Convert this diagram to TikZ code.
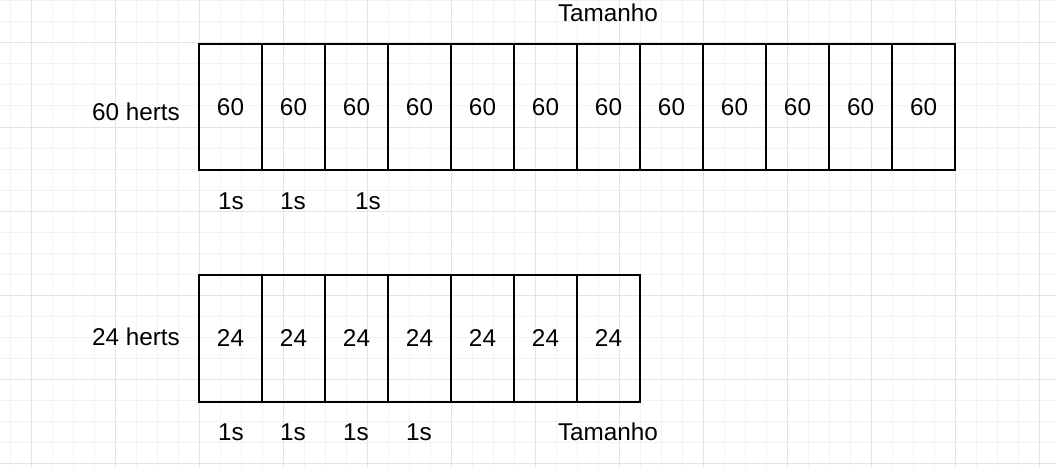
\documentclass[tikz,border=0pt]{standalone}
\usepackage{fontspec}
\setmainfont{Liberation Sans}
\usepackage{xcolor}
\definecolor{gridminor}{HTML}{F3F3F3}
\definecolor{gridmajor}{HTML}{E4E4E4}

\begin{document}
\begin{tikzpicture}[x=1pt, y=-1pt,
    frame/.style={draw, line width=2pt, minimum width=63pt, minimum height=126pt,
      inner sep=0pt, anchor=north west, font=\fontsize{24.3}{27}\selectfont},
    lbl/.style={font=\fontsize{24.3}{27}\selectfont, inner sep=0pt}]
    \useasboundingbox (0,0) rectangle (1056,468);
    \fill[white] (0,0) rectangle (1056,468);

    % Background grid
    \foreach \gx in {10,31,...,1056} \draw[gridminor, line width=1pt] (\gx,0) -- (\gx,468);
    \foreach \gy in {1,22,...,468} \draw[gridminor, line width=1pt] (0,\gy) -- (1056,\gy);
    \foreach \gx in {31,115,...,1056} \draw[gridmajor, line width=1pt] (\gx,0) -- (\gx,468);
    \foreach \gy in {43,127,...,468} \draw[gridmajor, line width=1pt] (0,\gy) -- (1056,\gy);

    % 60 herts frames
    \foreach \i in {1,...,12}
      \node[frame] (f\i) at ({198+63*(\i-1)},43) {60};

    % 24 herts frames
    \foreach \i in {1,...,7}
      \node[frame, minimum height=127pt] (g\i) at ({198+63*(\i-1)},274) {24};

    % Labels
    \node[lbl] (top) at (608,13) {Tamanho};
    \node[lbl] (h60) at (136,112) {60 herts};
    \node[lbl] (h24) at (136,337) {24 herts};
    \node[lbl] (bot) at (608,432) {Tamanho};

    % Seconds under the frames
    \node[lbl] (s1) at (231,201) {1s};
    \node[lbl] (s2) at (293,201) {1s};
    \node[lbl] (s3) at (368,201) {1s};
    \node[lbl] (t1) at (231,432) {1s};
    \node[lbl] (t2) at (293,432) {1s};
    \node[lbl] (t3) at (356,432) {1s};
    \node[lbl] (t4) at (419,432) {1s};
\end{tikzpicture}
\end{document}
